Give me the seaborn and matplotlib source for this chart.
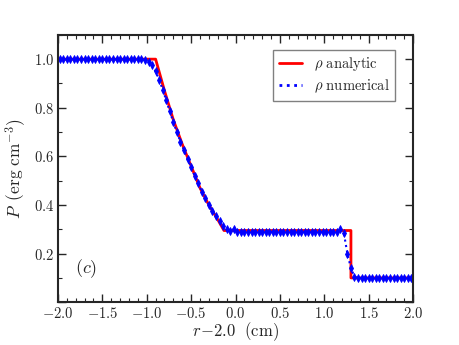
import numpy as np
import pandas as pd
import seaborn as sns
import matplotlib.pyplot as plt
from matplotlib.ticker import MultipleLocator, FuncFormatter
from matplotlib.lines import Line2D

# analytic solution
x_analytic = [-2.0, -0.9, -0.8, -0.7, -0.6, -0.5, -0.4, -0.3, -0.2, -0.13, 1.3, 1.3, 2.0]
p_analytic = [1.0, 1.0, 0.87, 0.75, 0.65, 0.56, 0.47, 0.40, 0.34, 0.295, 0.295, 0.10, 0.10]

# numerical solution
x_numerical = [
    -1.98, -1.94, -1.90, -1.86, -1.82, -1.78, -1.74, -1.70, -1.66, -1.62,
    -1.58, -1.54, -1.50, -1.46, -1.42, -1.38, -1.34, -1.30, -1.26, -1.22,
    -1.18, -1.14, -1.10, -1.06, -1.02, -0.98, -0.94, -0.90, -0.86, -0.82,
    -0.78, -0.74, -0.70, -0.66, -0.62, -0.58, -0.54, -0.50, -0.46, -0.42,
    -0.38, -0.34, -0.30, -0.26, -0.22, -0.18, -0.14, -0.10, -0.06, -0.02,
    0.02, 0.06, 0.10, 0.14, 0.18, 0.22, 0.26, 0.30, 0.34, 0.38,
    0.42, 0.46, 0.50, 0.54, 0.58, 0.62, 0.66, 0.70, 0.74, 0.78,
    0.82, 0.86, 0.90, 0.94, 0.98, 1.02, 1.06, 1.10, 1.14, 1.18,
    1.22, 1.26, 1.30, 1.34, 1.38, 1.42, 1.46, 1.50, 1.54, 1.58,
    1.62, 1.66, 1.70, 1.74, 1.78, 1.82, 1.86, 1.90, 1.94, 1.98,
]
p_numerical = [
    1.0, 1.0, 1.0, 1.0, 1.0, 1.0, 1.0, 1.0, 1.0, 1.0,
    1.0, 1.0, 1.0, 1.0, 1.0, 1.0, 1.0, 1.0, 1.0, 1.0,
    1.0, 1.0, 1.0, 1.0, 0.997, 0.99, 0.975, 0.95, 0.915, 0.875,
    0.83, 0.785, 0.74, 0.70, 0.66, 0.625, 0.59, 0.555, 0.52, 0.49,
    0.455, 0.43, 0.40, 0.375, 0.355, 0.335, 0.315, 0.30, 0.295, 0.30,
    0.29, 0.29, 0.29, 0.29, 0.29, 0.29, 0.29, 0.29, 0.29, 0.29,
    0.29, 0.29, 0.29, 0.29, 0.29, 0.29, 0.29, 0.29, 0.29, 0.29,
    0.29, 0.29, 0.29, 0.29, 0.29, 0.29, 0.29, 0.29, 0.29, 0.30,
    0.285, 0.20, 0.14, 0.105, 0.10, 0.10, 0.10, 0.10, 0.10, 0.10,
    0.10, 0.10, 0.10, 0.10, 0.10, 0.10, 0.10, 0.10, 0.10, 0.10,
]

sns.set_style('ticks')
plt.rcParams['mathtext.fontset'] = 'cm'
plt.rcParams['font.family'] = ['DejaVu Serif']

fig = plt.figure(figsize=(4.6, 3.45), dpi=100)
ax = fig.add_axes([0.126, 0.124, 0.772, 0.775])

sns.lineplot(x=x_analytic, y=p_analytic, ax=ax, color='red', linewidth=2,
             estimator=None, sort=False)
sns.lineplot(x=x_numerical, y=p_numerical, ax=ax, color='blue', linestyle=':',
             linewidth=1.5, marker='d', markersize=4.2, markeredgewidth=0.6,
             markeredgecolor='blue', estimator=None, sort=False)

ax.set_xlim(-2.0, 2.0)
ax.set_ylim(0.0, 1.1)
ax.xaxis.set_major_locator(MultipleLocator(0.5))
ax.xaxis.set_minor_locator(MultipleLocator(0.1))
ax.yaxis.set_major_locator(MultipleLocator(0.2))
ax.yaxis.set_minor_locator(MultipleLocator(0.1))
ax.xaxis.set_major_formatter(FuncFormatter(lambda v, pos: '$%.1f$' % v))
ax.yaxis.set_major_formatter(FuncFormatter(lambda v, pos: '' if v < 0.1 else '$%.1f$' % v))
ax.tick_params(which='both', direction='in', top=True, right=True, labelsize=10.5)
ax.tick_params(which='major', length=6, width=1, pad=3)
ax.tick_params(which='minor', length=3, width=0.8)
for s in ax.spines.values():
    s.set_linewidth(1.5)

# x label placed in figure coords so that it stays inside the canvas
fig.text(0.513, 0.006, r'$r\!-\!2.0\ \ (\mathrm{cm})$', fontsize=12,
         ha='center', va='bottom')
ax.set_ylabel(r'$P\ \,(\mathrm{erg\ cm^{-3}})$', fontsize=12.5, labelpad=3)
ax.text(-1.68, 0.14, r'$(c)$', fontsize=13, ha='center', va='center')

handles = [Line2D([], [], color='red', linewidth=2),
           Line2D([], [], color='blue', linestyle=':', linewidth=2)]
ax.legend(handles, [r'$\rho\ \mathrm{analytic}$', r'$\rho\ \mathrm{numerical}$'],
          loc='upper right', bbox_to_anchor=(0.95, 0.945), fontsize=10.5,
          fancybox=False, edgecolor='gray', framealpha=1, handlelength=1.6,
          borderaxespad=0, labelspacing=0.3, borderpad=0.4)

plt.savefig('out.png', dpi=100)
